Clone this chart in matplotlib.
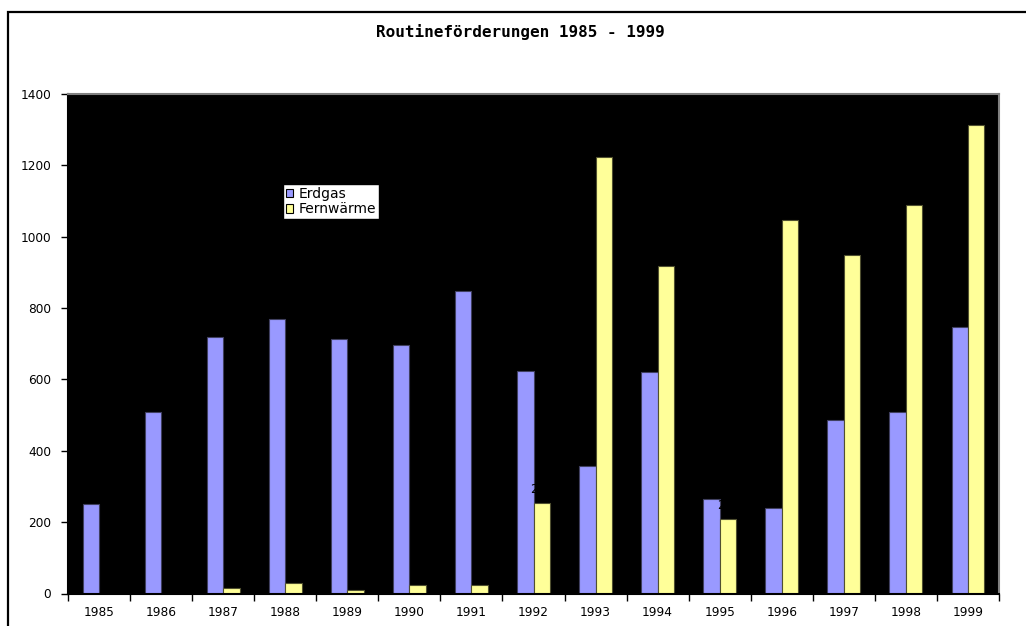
import matplotlib
matplotlib.use("Agg")
import matplotlib.pyplot as plt
import matplotlib.patches as mpatches
import numpy as np

years = ["1985", "1986", "1987", "1988", "1989", "1990", "1991", "1992",
         "1993", "1994", "1995", "1996", "1997", "1998", "1999"]
erdgas = [252, 508, 719, 769, 714, 697, 849, 625, 357, 621, 266, 239, 486, 508, 747]
fernwaerme = [0, 0, 15, 29, 11, 25, 25, 253, 1223, 918, 208, 1047, 949, 1089, 1313]
yticks = [0, 200, 400, 600, 800, 1000, 1200, 1400]
title = "Routineförderungen 1985 - 1999"

W, H = 1026, 626
fig = plt.figure(figsize=(W / 100, H / 100), dpi=100)
fig.patch.set_facecolor("white")

# outer chart-area frame
fig.patches.append(mpatches.Rectangle((8 / W, -0.1), 1.2, 1 - 12 / H + 0.1,
                                      transform=fig.transFigure, fill=False,
                                      edgecolor="black", linewidth=1.6))

ax = fig.add_axes([68 / W, 1 - 593.5 / H, (999 - 68) / W, (593.5 - 94) / H])
ax.set_facecolor("black")

x = np.arange(len(years))
w = 0.265
b1 = ax.bar(x - w / 2, erdgas, w, color="#9999FF", edgecolor="#404060", linewidth=0.8,
            label="Erdgas")
b2 = ax.bar(x + w / 2, fernwaerme, w, color="#FFFF99", edgecolor="#505030", linewidth=0.8,
            label="Fernwärme")
ax.bar_label(b2, labels=[str(v) if v else "" for v in fernwaerme], padding=5,
             color="black", fontsize=8.5, family="DejaVu Sans")

ax.set_xlim(-0.5, len(years) - 0.5)
ax.set_ylim(0, 1400)
ax.set_yticks(yticks)
ax.set_yticklabels([str(v) for v in yticks])

ax.set_xticks(np.arange(len(years) + 1) - 0.5)
ax.set_xticklabels([])
ax.set_xticks(x, minor=True)
ax.set_xticklabels(years, minor=True)
ax.tick_params(axis="x", which="major", direction="out", length=5, width=1, color="black")
ax.tick_params(axis="x", which="minor", length=0, pad=9, labelsize=8.7)
ax.tick_params(axis="y", direction="out", length=5, width=1, color="black", pad=7,
               labelsize=8.7)
for lab in ax.get_xticklabels(minor=True) + ax.get_yticklabels():
    lab.set_family("DejaVu Sans")

ax.spines["left"].set_color("black")
ax.spines["bottom"].set_color("black")
ax.spines["top"].set_color("#808080")
ax.spines["right"].set_color("#808080")
for s in ax.spines.values():
    s.set_linewidth(1.5)

fig.text(520 / W, 1 - 32 / H, title, ha="center", va="center",
         family="DejaVu Sans Mono", fontweight="bold", fontsize=11.5)

leg = ax.legend(loc="upper left", bbox_to_anchor=(283 / W, 1 - 184 / H),
                bbox_transform=fig.transFigure, borderaxespad=0, frameon=True,
                fancybox=False, framealpha=1, edgecolor="black", facecolor="white",
                prop={"family": "DejaVu Sans", "size": 10}, handlelength=0.55,
                handleheight=0.55, handletextpad=0.35, labelspacing=0.12,
                borderpad=0.2)
leg.get_frame().set_linewidth(1.0)
for h in leg.legend_handles:
    h.set_edgecolor("black")

fig.savefig("out.png", dpi=100, facecolor=fig.get_facecolor())
